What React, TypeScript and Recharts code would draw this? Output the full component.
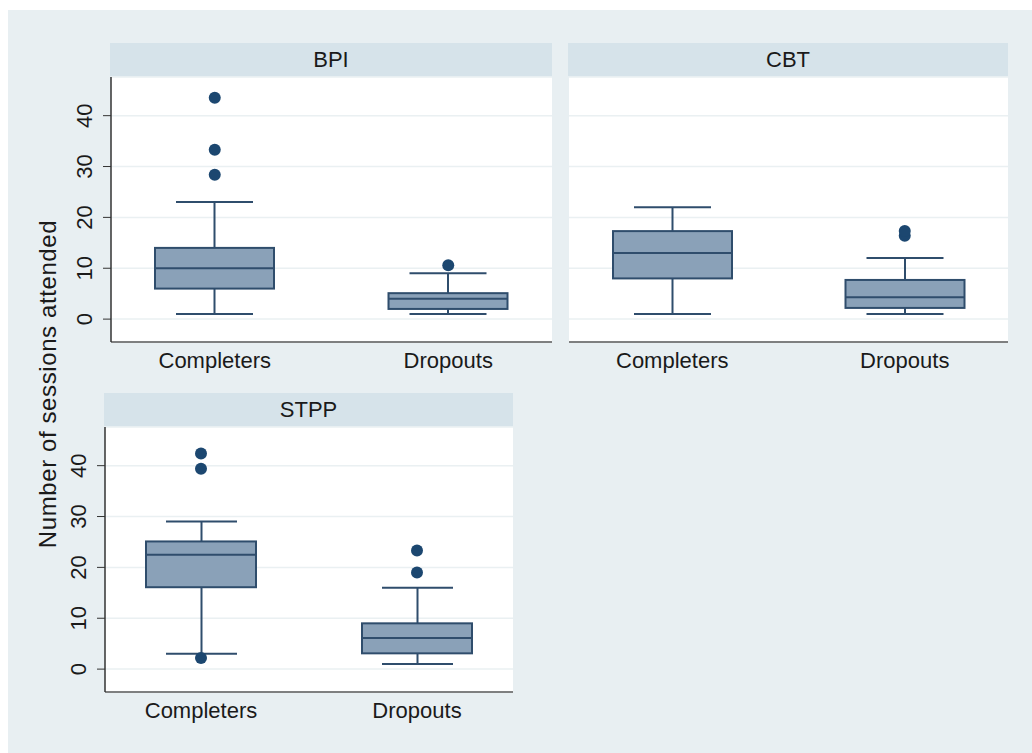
import React from 'react';
import { ComposedChart, Bar, Scatter, XAxis, YAxis, CartesianGrid } from 'recharts';

const groups = ['Completers', 'Dropouts'];
const panelTitles = ['BPI', 'CBT', 'STPP'];
const yTicks = [0, 10, 20, 30, 40];

// one row per panel (BPI, CBT, STPP), one value per group (Completers, Dropouts)
const lowerWhisker = [[1, 1], [1, 1], [3, 1]];
const lowerQuartile = [[6, 2], [8, 2.2], [16.1, 3.1]];
const medians = [[10, 4], [13, 4.3], [22.5, 6.1]];
const upperQuartile = [[14, 5.1], [17.3, 7.7], [25.1, 9]];
const upperWhisker = [[23, 9], [22, 12], [29, 16]];
const outlierValues = [
  [[43.5, 33.3, 28.4], [10.6]],
  [[], [16.4, 17.3]],
  [[42.4, 39.4, 2.2], [23.3, 19]],
];

const FONT = '"Liberation Sans", Arial, Helvetica, sans-serif';
const BOX_FILL = '#8aa1b8';
const BOX_LINE = '#2f4d6c';
const DOT = '#1c4770';
const STRIP = '#d6e3ea';
const BG = '#e8eff2';

const layout = [
  { left: 111, top: 77, width: 441, showY: true },
  { left: 569, top: 77, width: 439, showY: false },
  { left: 105, top: 427, width: 408, showY: true },
];

const WhiskerShape = (props: any) => {
  const { x, y, width, height } = props;
  const cx = x + width / 2;
  return (
    <g stroke={BOX_LINE} strokeWidth={2}>
      <line x1={cx} x2={cx} y1={y} y2={y + height} />
      <line x1={x} x2={x + width} y1={y} y2={y} />
      <line x1={x} x2={x + width} y1={y + height} y2={y + height} />
    </g>
  );
};

const BoxShape = (props: any) => {
  const { x, y, width, height, payload } = props;
  const [q1, q3] = payload.box;
  const ym = y + (height * (q3 - payload.med)) / (q3 - q1);
  return (
    <g>
      <rect x={x} y={y} width={width} height={height} fill={BOX_FILL} stroke={BOX_LINE} strokeWidth={2} />
      <line x1={x} x2={x + width} y1={ym} y2={ym} stroke={BOX_LINE} strokeWidth={2} />
    </g>
  );
};

const OutlierDot = (props: any) => <circle cx={props.cx} cy={props.cy} r={6} fill={DOT} />;

const XTick = (props: any) => (
  <text x={props.x} y={props.y + 26} textAnchor="middle" fontSize={22} fontFamily={FONT} fill="#1a1a1a">
    {props.payload.value}
  </text>
);

const YTick = (props: any) => {
  const tx = props.x - 11;
  return (
    <text
      x={tx}
      y={props.y}
      transform={`rotate(-90 ${tx} ${props.y})`}
      textAnchor="middle"
      fontSize={22}
      fontFamily={FONT}
      fill="#1a1a1a"
    >
      {props.payload.value}
    </text>
  );
};

function Panel({ idx }: { idx: number }) {
  const { left, top, width, showY } = layout[idx];
  const data = groups.map((g, i) => ({
    cat: g,
    whisker: [lowerWhisker[idx][i], upperWhisker[idx][i]],
    box: [lowerQuartile[idx][i], upperQuartile[idx][i]],
    med: medians[idx][i],
  }));
  const points = groups.flatMap((g, i) => outlierValues[idx][i].map((v) => ({ cat: g, v })));
  const axisW = showY ? 40 : 0;
  const pad = Math.round(width * 0.03);
  const plotH = 265;

  return (
    <>
      <div
        style={{
          position: 'absolute',
          left: left - 1,
          top: top - 34,
          width: width + 1,
          height: 33,
          background: STRIP,
          fontFamily: FONT,
          fontSize: 22,
          color: '#1a1a1a',
          display: 'flex',
          alignItems: 'center',
          justifyContent: 'center',
        }}
      >
        {panelTitles[idx]}
      </div>
      <div style={{ position: 'absolute', left: left - axisW, top }}>
        <ComposedChart
          width={width + axisW}
          height={plotH + 40}
          data={data}
          margin={{ top: 0, right: 0, bottom: 0, left: 0 }}
        >
          <CartesianGrid xAxisId="cap" vertical={false} stroke="#eaf0f2" strokeWidth={1.5} fill="#ffffff" fillOpacity={1} />
          <XAxis
            xAxisId="cap"
            dataKey="cat"
            allowDuplicatedCategory={false}
            padding={{ left: -pad, right: -pad }}
            tickLine={false}
            tickSize={0}
            tickMargin={0}
            height={40}
            axisLine={{ stroke: '#5a5a5a', strokeWidth: 1.5 }}
            tick={<XTick />}
          />
          <XAxis
            xAxisId="box"
            dataKey="cat"
            hide
            height={0}
            allowDuplicatedCategory={false}
            padding={{ left: -pad, right: -pad }}
          />
          <YAxis
            dataKey="v"
            type="number"
            domain={[-4.5, 47.6]}
            ticks={yTicks}
            interval={0}
            hide={!showY}
            width={40}
            tickSize={8}
            tickMargin={0}
            tickLine={{ stroke: '#333' }}
            axisLine={{ stroke: '#333', strokeWidth: 1.5 }}
            tick={<YTick />}
          />
          <Bar xAxisId="cap" dataKey="whisker" barSize={Math.round(width * 0.175)} shape={WhiskerShape} isAnimationActive={false} />
          <Bar xAxisId="box" dataKey="box" barSize={Math.round(width * 0.27)} shape={BoxShape} isAnimationActive={false} />
          <Scatter xAxisId="cap" data={points} dataKey="v" shape={OutlierDot} isAnimationActive={false} />
        </ComposedChart>
      </div>
    </>
  );
}

export default function App() {
  return (
    <div style={{ position: 'absolute', left: 0, top: 0, width: 1032, height: 753, background: '#ffffff' }}>
      <div style={{ position: 'absolute', left: 8, top: 10, width: 1024, height: 743, background: BG }} />
      <svg style={{ position: 'absolute', left: 0, top: 0 }} width={100} height={753}>
        <text
          x={56}
          y={384}
          transform="rotate(-90 56 384)"
          textAnchor="middle"
          fontSize={24}
          letterSpacing={0.6}
          fontFamily={FONT}
          fill="#1a1a1a"
        >
          Number of sessions attended
        </text>
      </svg>
      {panelTitles.map((_, i) => (
        <Panel key={i} idx={i} />
      ))}
    </div>
  );
}
